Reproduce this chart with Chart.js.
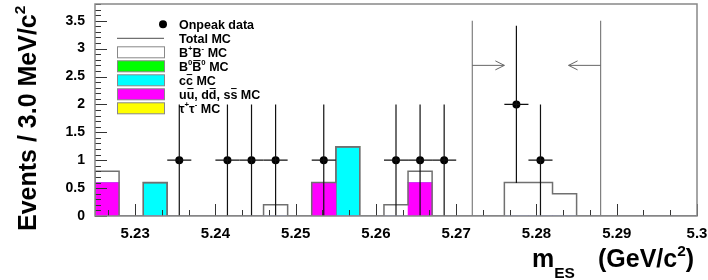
<!DOCTYPE html>
<html>
<head>
<meta charset="utf-8">
<script src="https://cdn.jsdelivr.net/npm/chart.js@4.4.1/dist/chart.umd.min.js"></script>
<style>
  html, body { margin: 0; padding: 0; background: #fff; }
</style>
</head>
<body>
<canvas id="mes" width="708" height="280"></canvas>
<script>
// ─── Data ─────────────────────────────────────────────────────────────────

const BIN_W = 0.003;
const BIN_CENTERS = [5.2265, 5.2295, 5.2325, 5.2355, 5.2385, 5.2415, 5.2445, 5.2475, 5.2505,
                     5.2535, 5.2565, 5.2595, 5.2625, 5.2655, 5.2685, 5.2715, 5.2745, 5.2775,
                     5.2805, 5.2835, 5.2865, 5.2895, 5.2925, 5.2955, 5.2985];

// stacked MC components, bottom to top
const UDS_MC    = [0.6, 0, 0, 0, 0, 0, 0, 0, 0, 0.6, 0, 0, 0, 0.6, 0, 0, 0, 0, 0, 0, 0, 0, 0, 0, 0];
const CC_MC     = [0, 0, 0.6, 0, 0, 0, 0, 0, 0, 0, 1.24, 0, 0, 0, 0, 0, 0, 0, 0, 0, 0, 0, 0, 0, 0];
const B0B0_MC   = [0, 0, 0, 0, 0, 0, 0, 0, 0, 0, 0, 0, 0, 0, 0, 0, 0, 0, 0, 0, 0, 0, 0, 0, 0];
const BPBM_MC   = [0.2, 0, 0, 0, 0, 0, 0, 0.2, 0, 0, 0, 0, 0.2, 0.2, 0, 0, 0, 0.6, 0.6, 0.4, 0, 0, 0, 0, 0];
const TAUTAU_MC = [0, 0, 0, 0, 0, 0, 0, 0, 0, 0, 0, 0, 0, 0, 0, 0, 0, 0, 0, 0, 0, 0, 0, 0, 0];

const ONPEAK     = [0, 0, 0, 1, 0, 1, 1, 1, 0, 1, 0, 0, 1, 1, 1, 0, 0, 2, 1, 0, 0, 0, 0, 0, 0];
const ONPEAK_ERR = [0, 0, 0, 1, 0, 1, 1, 1, 0, 1, 0, 0, 1, 1, 1, 0, 0, 1.41, 1, 0, 0, 0, 0, 0, 0];

// signal-region cut lines
const CUT_LO = 5.272;
const CUT_HI = 5.288;
const CUT_TOP = 3.5;
const ARROW_Y = 2.7;
const ARROW_LEN = 0.004;

const X_MIN = 5.225, X_MAX = 5.30;
const Y_MIN = 0, Y_MAX = 3.8;

// ─── Styling ──────────────────────────────────────────────────────────────

const FONT = "'Liberation Sans', Arial, Helvetica, sans-serif";
const GREY = '#707070';

const TOTAL_MC = BIN_CENTERS.map((_, i) =>
  UDS_MC[i] + CC_MC[i] + B0B0_MC[i] + BPBM_MC[i] + TAUTAU_MC[i]);

// outline points at bin low edges, "before" stepping holds each value over its bin
const totalOutline = [{ x: X_MIN, y: 0 }]
  .concat(BIN_CENTERS.map((c, i) => ({ x: c - BIN_W / 2, y: TOTAL_MC[i] })))
  .concat([{ x: X_MAX, y: 0 }]);

const asBars = arr => BIN_CENTERS.map((c, i) => ({ x: c, y: arr[i] }));

function drawRich(ctx, x, y, parts, size) {
  let cx = x;
  for (const [t, kind] of parts) {
    const small = kind === 'sup' || kind === 'sub';
    const s = small ? size * 0.62 : size;
    ctx.font = `bold ${s}px ${FONT}`;
    const dy = kind === 'sup' ? -size * 0.45 : kind === 'sub' ? size * 0.42 : 0;
    ctx.fillText(t, cx, y + dy);
    const w = ctx.measureText(t).width;
    if (kind === 'bar') {
      ctx.fillRect(cx + w * 0.1, y - size * 0.86, w * 0.8, Math.max(1, size * 0.08));
    }
    cx += w;
  }
  return cx - x;
}

const LEGEND_ITEMS = [
  { kind: 'point', parts: [['Onpeak data']] },
  { kind: 'line',  parts: [['Total MC']] },
  { kind: 'box', fill: '#ffffff', parts: [['B'], ['+', 'sup'], ['B'], ['-', 'sup'], [' MC']] },
  { kind: 'box', fill: '#00ff00', parts: [['B'], ['0', 'sup'], ['B', 'bar'], ['0', 'sup'], [' MC']] },
  { kind: 'box', fill: '#00ffff', parts: [['c'], ['c', 'bar'], [' MC']] },
  { kind: 'box', fill: '#ff00ff', parts: [['u'], ['u', 'bar'], [', d'], ['d', 'bar'], [', s'], ['s', 'bar'], [' MC']] },
  { kind: 'box', fill: '#ffff00', parts: [['\u03c4'], ['+', 'sup'], ['\u03c4'], ['-', 'sup'], [' MC']] },
];

// ─── ROOT-like decorations ────────────────────────────────────────────────

const rootStyle = {
  id: 'rootStyle',
  afterDatasetsDraw(chart) {
    const { ctx, scales: { x, y } } = chart;
    ctx.save();

    // error bars on the data points
    ctx.strokeStyle = '#111';
    ctx.lineWidth = 1.2;
    ONPEAK.forEach((v, i) => {
      if (!v) return;
      const c = BIN_CENTERS[i];
      const px = x.getPixelForValue(c);
      const py = y.getPixelForValue(v);
      ctx.beginPath();
      ctx.moveTo(x.getPixelForValue(c - BIN_W / 2), py);
      ctx.lineTo(x.getPixelForValue(c + BIN_W / 2), py);
      ctx.moveTo(px, y.getPixelForValue(v - ONPEAK_ERR[i]));
      ctx.lineTo(px, y.getPixelForValue(v + ONPEAK_ERR[i]));
      ctx.stroke();
    });

    // cut lines with arrows pointing inward
    ctx.strokeStyle = '#666';
    ctx.lineWidth = 1;
    const ay = y.getPixelForValue(ARROW_Y);
    [[CUT_LO, 1], [CUT_HI, -1]].forEach(([cut, dir]) => {
      const px = x.getPixelForValue(cut);
      const tip = x.getPixelForValue(cut + dir * ARROW_LEN);
      ctx.beginPath();
      ctx.moveTo(px, y.getPixelForValue(0));
      ctx.lineTo(px, y.getPixelForValue(CUT_TOP));
      ctx.moveTo(px, ay);
      ctx.lineTo(tip, ay);
      ctx.moveTo(tip - dir * 9, ay - 4.5);
      ctx.lineTo(tip, ay);
      ctx.lineTo(tip - dir * 9, ay + 4.5);
      ctx.stroke();
    });
    ctx.restore();
  },

  afterDraw(chart) {
    const { ctx, chartArea: a, scales: { x, y } } = chart;
    ctx.save();

    // inside tick marks
    ctx.strokeStyle = '#333';
    ctx.lineWidth = 1;
    ctx.beginPath();
    const xMaj = x.ticks.map(t => t.value);
    const xMin = [];
    const step = xMaj[1] - xMaj[0];
    for (let k = -1; k <= xMaj.length * 3; k++) {
      const v = xMaj[0] + k * step / 3;
      if (k % 3 !== 0 && v > X_MIN && v < X_MAX) xMin.push(v);
    }
    xMaj.forEach(v => { const p = Math.round(x.getPixelForValue(v)) + 0.5; ctx.moveTo(p, a.bottom); ctx.lineTo(p, a.bottom - 12); });
    xMin.forEach(v => { const p = Math.round(x.getPixelForValue(v)) + 0.5; ctx.moveTo(p, a.bottom); ctx.lineTo(p, a.bottom - 6); });
    y.ticks.forEach(t => { const p = Math.round(y.getPixelForValue(t.value)) + 0.5; ctx.moveTo(a.left, p); ctx.lineTo(a.left + 12, p); });
    for (let k = 0; k <= 38; k++) {
      if (k % 5 === 0) continue;
      const p = Math.round(y.getPixelForValue(k / 10)) + 0.5;
      ctx.moveTo(a.left, p); ctx.lineTo(a.left + 6, p);
    }
    ctx.stroke();

    // frame
    ctx.strokeStyle = '#888';
    ctx.lineWidth = 1.5;
    ctx.strokeRect(a.left, a.top, a.right - a.left, a.bottom - a.top);

    // legend
    ctx.fillStyle = '#000';
    ctx.textBaseline = 'alphabetic';
    ctx.textAlign = 'left';
    LEGEND_ITEMS.forEach((item, i) => {
      const ry = 24.3 + i * 14;
      if (item.kind === 'point') {
        ctx.beginPath();
        ctx.arc(163, ry, 4, 0, Math.PI * 2);
        ctx.fill();
      } else if (item.kind === 'line') {
        ctx.strokeStyle = GREY;
        ctx.lineWidth = 1.2;
        ctx.beginPath();
        ctx.moveTo(117, ry);
        ctx.lineTo(164, ry);
        ctx.stroke();
      } else {
        ctx.fillStyle = item.fill;
        ctx.fillRect(117, ry - 5.5, 47, 11);
        ctx.strokeStyle = '#888';
        ctx.lineWidth = 1;
        ctx.strokeRect(117.5, ry - 5.5, 47, 11);
        ctx.fillStyle = '#000';
      }
      drawRich(ctx, 179, ry + 4.5, item.parts, 12.5);
    });

    // axis titles
    drawRich(ctx, 532, 267, [['m'], ['ES', 'sub']], 25);
    drawRich(ctx, 598, 267, [['(GeV/c'], ['2', 'sup'], [')']], 25);
    ctx.translate(36, 231);
    ctx.rotate(-Math.PI / 2);
    drawRich(ctx, 0, 0, [['Events / 3.0 MeV/c'], ['2', 'sup']], 25);
    ctx.restore();
  },
};

// ─── Chart ────────────────────────────────────────────────────────────────

const barSet = (label, arr, color, border) => ({
  type: 'bar',
  label,
  data: asBars(arr),
  backgroundColor: color,
  borderColor: border || color,
  borderWidth: c => (border && c.raw && c.raw.y ? 1.2 : 0),
  stack: 'mc',
  barPercentage: 1,
  categoryPercentage: 1,
  order: 3,
});

new Chart(document.getElementById('mes'), {
  type: 'bar',
  data: {
    datasets: [
      barSet('uu, dd, ss MC', UDS_MC, '#ff00ff'),
      barSet('cc MC', CC_MC, '#00ffff', GREY),
      barSet('B0B0 MC', B0B0_MC, '#00ff00'),
      barSet('B+B- MC', BPBM_MC, '#ffffff'),
      barSet('tau tau MC', TAUTAU_MC, '#ffff00'),
      {
        type: 'line',
        label: 'Total MC',
        data: totalOutline,
        stepped: true,
        borderColor: GREY,
        borderWidth: 1.5,
        pointRadius: 0,
        fill: false,
        stack: 'total',
        order: 2,
      },
      {
        type: 'scatter',
        label: 'Onpeak data',
        data: BIN_CENTERS.map((c, i) => ({ x: c, y: ONPEAK[i] })).filter(p => p.y > 0),
        backgroundColor: '#000',
        borderWidth: 0,
        pointRadius: 4,
        stack: 'data',
        order: 1,
      },
    ],
  },
  options: {
    responsive: false,
    animation: false,
    events: [],
    layout: { padding: { left: 0, right: 11, top: 2, bottom: 0 } },
    plugins: { legend: { display: false }, tooltip: { enabled: false } },
    scales: {
      x: {
        type: 'linear',
        min: X_MIN,
        max: X_MAX,
        stacked: true,
        offset: false,
        grid: { display: false, drawTicks: false, offset: false },
        border: { display: false },
        ticks: {
          stepSize: 0.01,
          includeBounds: false,
          autoSkip: false,
          maxRotation: 0,
          padding: 9,
          color: '#000',
          font: { family: FONT, size: 15, weight: 'bold' },
          callback: v => String(+v.toFixed(2)),
        },
        afterFit: s => { s.height = 64; s.paddingLeft = 0; s.paddingRight = 0; },
      },
      y: {
        min: Y_MIN,
        max: Y_MAX,
        stacked: true,
        grid: { display: false, drawTicks: false },
        border: { display: false },
        ticks: {
          stepSize: 0.5,
          includeBounds: false,
          padding: 10,
          color: '#000',
          font: { family: FONT, size: 14, weight: 'bold' },
          callback: v => String(+v.toFixed(1)),
        },
        afterFit: s => { s.width = 95; s.paddingTop = 0; s.paddingBottom = 0; },
      },
    },
  },
  plugins: [rootStyle],
});
</script>
</body>
</html>
